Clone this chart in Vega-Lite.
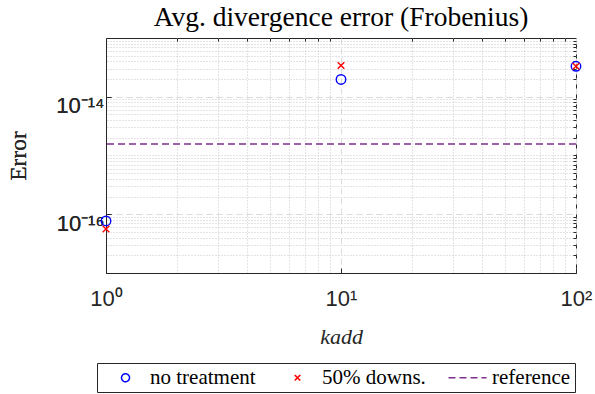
{
  "$schema": "https://vega.github.io/schema/vega-lite/v6.json",
  "width": 470,
  "height": 235,
  "autosize": {"type": "none"},
  "padding": {"left": 106, "top": 38, "right": 19, "bottom": 121},
  "background": "white",
  "title": {"text": "Avg. divergence error (Frobenius)", "font": "Liberation Serif", "fontSize": 27.5, "fontWeight": "normal", "color": "#000", "offset": 6},
  "config": {
    "view": {"stroke": "#262626", "strokeWidth": 1},
    "axis": {"domainColor": "#262626", "tickColor": "#262626", "labelColor": "#262626", "titleColor": "#262626", "labelFlush": false}
  },
  "data": {"values": [
    {"k": 1, "err": 7.7e-17, "series": "no treatment"},
    {"k": 10, "err": 1.97e-14, "series": "no treatment"},
    {"k": 100, "err": 3.3e-14, "series": "no treatment"},
    {"k": 1, "err": 5.6e-17, "series": "50% downs."},
    {"k": 10, "err": 3.4e-14, "series": "50% downs."},
    {"k": 100, "err": 3.3e-14, "series": "50% downs."},
    {"k": 1, "err": 1.57e-15, "series": "reference"}
  ]},
  "layer": [
    {
      "transform": [{"filter": "datum.series !== 'reference'"}],
      "mark": {"type": "point", "opacity": 0},
      "encoding": {
        "x": {"field": "k", "type": "quantitative", "scale": {"type": "log", "domain": [1, 100], "nice": false},
          "axis": {"orient": "top", "values": [2,3,4,5,6,7,8,9,20,30,40,50,60,70,80,90], "labels": false, "title": null, "grid": true, "gridDash": [1, 2], "gridColor": "#c8c8c8", "gridWidth": 1, "tickSize": -3, "domain": false}},
        "y": {"field": "err", "type": "quantitative", "scale": {"type": "log", "domain": [1e-17, 1e-13], "nice": false},
          "axis": {"orient": "right", "values": [2e-17,3e-17,4e-17,5e-17,6e-17,7e-17,8e-17,9e-17,2e-16,3e-16,4e-16,5e-16,6e-16,7e-16,8e-16,9e-16,1e-15,2e-15,3e-15,4e-15,5e-15,6e-15,7e-15,8e-15,9e-15,2e-14,3e-14,4e-14,5e-14,6e-14,7e-14,8e-14,9e-14], "labels": false, "title": null, "grid": true, "gridDash": [1, 2], "gridColor": "#c8c8c8", "gridWidth": 1, "tickSize": -3, "domain": false}}
      }
    },
    {
      "transform": [{"filter": "datum.series === 'reference'"}],
      "mark": {"type": "rule", "strokeWidth": 1.5},
      "encoding": {
        "y": {"field": "err", "type": "quantitative",
          "axis": {"orient": "left", "values": [1e-16, 1e-14], "labelExpr": "datum.value < 1e-15 ? '10⁻¹⁶' : '10⁻¹⁴'", "labelFont": "Liberation Sans", "labelFontSize": 22, "labelPadding": 7, "labelOffset": 9, "tickSize": -5, "grid": true, "gridDash": [6, 4], "gridColor": "#dcdcdc", "title": "Error", "titleFont": "Liberation Serif", "titleFontSize": 23.5, "titleFontWeight": "normal", "titlePadding": 25}},
        "color": {"field": "series", "type": "nominal", "scale": {"domain": ["no treatment", "50% downs.", "reference"], "range": ["#0000ff", "#ff0000", "#7e2f8e"]}},
        "strokeDash": {"field": "series", "type": "nominal", "scale": {"domain": ["no treatment", "50% downs.", "reference"], "range": [[1, 0], [1, 0], [7, 4]]}}
      }
    },
    {
      "transform": [{"filter": "datum.series !== 'reference'"}],
      "mark": {"type": "point", "filled": false, "strokeWidth": 1.4, "size": 90, "opacity": 1},
      "encoding": {
        "x": {"field": "k", "type": "quantitative",
          "axis": {"orient": "bottom", "values": [1, 10, 100], "labelExpr": "datum.value == 1 ? '10⁰' : datum.value == 10 ? '10¹' : '10²'", "labelFont": "Liberation Sans", "labelFontSize": 22, "labelPadding": 20, "tickSize": -5, "grid": true, "gridDash": [6, 4], "gridColor": "#dcdcdc", "title": "kadd", "titleFont": "Liberation Serif", "titleFontStyle": "italic", "titleFontSize": 22, "titleFontWeight": "normal", "titlePadding": 17}},
        "y": {"field": "err", "type": "quantitative",
          "axis": {"orient": "left", "values": [1e-16, 1e-14], "labelExpr": "datum.value < 1e-15 ? '10⁻¹⁶' : '10⁻¹⁴'", "labelFont": "Liberation Sans", "labelFontSize": 22, "labelPadding": 7, "labelOffset": 9, "tickSize": -5, "grid": true, "gridDash": [6, 4], "gridColor": "#dcdcdc", "title": "Error", "titleFont": "Liberation Serif", "titleFontSize": 23.5, "titleFontWeight": "normal", "titlePadding": 25}},
        "color": {"field": "series", "type": "nominal", "scale": {"domain": ["no treatment", "50% downs.", "reference"], "range": ["#0000ff", "#ff0000", "#7e2f8e"]},
          "legend": {"title": null, "orient": "none", "legendX": -9, "legendY": 325, "direction": "horizontal", "strokeColor": "#262626", "fillColor": "white", "padding": 4, "labelFont": "Liberation Serif", "labelFontSize": 21, "labelColor": "#000", "labelOffset": 14, "columnPadding": 17, "symbolSize": 64, "symbolStrokeWidth": 1.5, "symbolOffset": 14}},
        "shape": {"field": "series", "type": "nominal", "scale": {"domain": ["no treatment", "50% downs.", "reference"], "range": ["circle", "M-0.7,-0.7L0.7,0.7M-0.7,0.7L0.7,-0.7", "M-4.75,0L4.75,0"]}}
      }
    }
  ]
}
